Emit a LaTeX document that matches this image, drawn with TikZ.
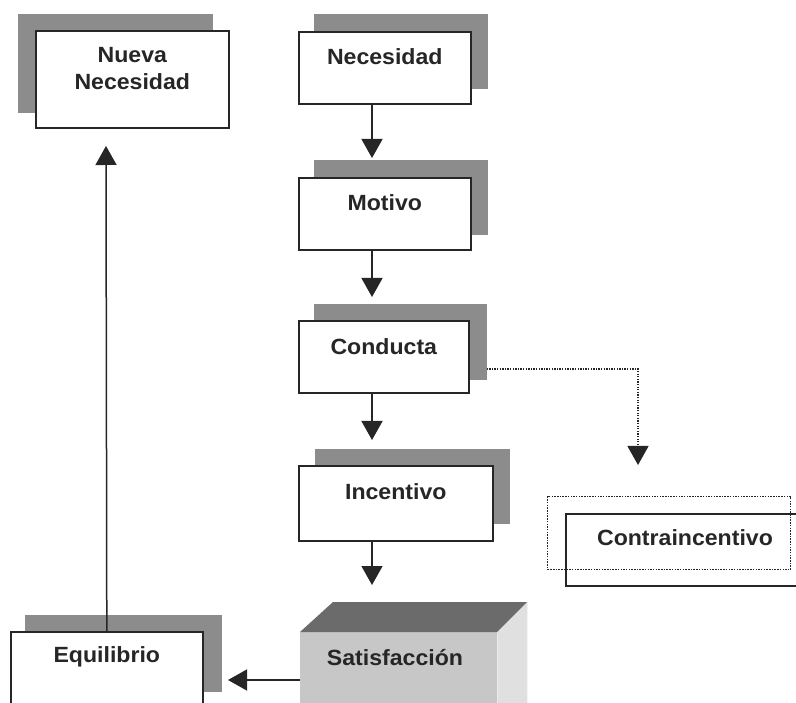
\documentclass[tikz,border=0pt]{standalone}
\usepackage{fontspec}
\setmainfont{Liberation Sans}[FakeStretch=1.05]
\usetikzlibrary{arrows.meta,calc,backgrounds}
\begin{document}
\begin{tikzpicture}[x=1pt,y=-1pt,
  box/.style={draw=black!85, line width=1.6pt, fill=white, rectangle, anchor=north west, inner sep=0pt},
  shd/.style={fill=black!45},
  lbl/.style={font=\fontsize{22}{27}\selectfont\bfseries, text=black!85, align=center, inner sep=0pt},
  arr/.style={line width=1.5pt, draw=black!85, -{Triangle[width=21pt,length=19pt]}},
  dotarr/.style={line width=1.3pt, dash pattern=on 1.3pt off 1.3pt, draw=black!85, -{Triangle[width=21pt,length=19pt]}}]
\clip (0,0) rectangle (796,703);

% boxes
\node[box, minimum width=193pt, minimum height=97pt] (nn) at (35,30) {};
\node[box, minimum width=172pt, minimum height=72pt] (nec) at (298,31) {};
\node[box, minimum width=172pt, minimum height=72pt] (mot) at (298,177) {};
\node[box, minimum width=170pt, minimum height=72pt] (con) at (298,320) {};
\node[box, minimum width=194pt, minimum height=75pt] (inc) at (298,465) {};
\node[box, minimum width=192pt, minimum height=85pt] (equ) at (10,631) {};
\node[box, fill=none, minimum width=250pt, minimum height=72pt] (cin) at (565,513) {};
\node[box, fill=none, line width=1.2pt, dash pattern=on 1.5pt off 1.2pt, minimum width=243pt, minimum height=73pt] (cind) at (547,496) {};

% 3D Satisfaccion block
\node[anchor=north west, fill=black!22, inner sep=0pt, minimum width=197pt, minimum height=80pt] (sat) at (300,632) {};
\fill[black!58] (sat.north west) -- (sat.north east) -- ++(30,-30) -- ($(sat.north west)+(33,-30)$) -- cycle;
\fill[black!12] (sat.north east) -- ++(30,-30) -- ++(0,110) -- (sat.south east) -- cycle;

% shadows
\begin{scope}[on background layer]
  \fill[shd] ($(nn.north west)+(-17,-16)$) rectangle ($(nn.south east)+(-17,-16)$);
  \fill[shd] ($(nec.north west)+(16,-17)$) rectangle ($(nec.south east)+(16,-16)$);
  \fill[shd] ($(mot.north west)+(16,-17)$) rectangle ($(mot.south east)+(16,-16)$);
  \fill[shd] ($(con.north west)+(16,-16)$) rectangle ($(con.south east)+(17,-14)$);
  \fill[shd] ($(inc.north west)+(17,-16)$) rectangle ($(inc.south east)+(16,-18)$);
  \fill[shd] ($(equ.north west)+(15,-16)$) rectangle ($(equ.south east)+(18,-26)$);
\end{scope}

% labels
\node[lbl] at ($(nn.north)+(0,39)$) {Nueva\\Necesidad};
\node[lbl] at ($(nec.north)+(0,26)$) {Necesidad};
\node[lbl] at ($(mot.north)+(0,26)$) {Motivo};
\node[lbl] at ($(con.north)+(0,27)$) {Conducta};
\node[lbl] at ($(inc.north)+(0,27)$) {Incentivo};
\node[lbl] at ($(equ.north)+(0,26)$) {Equilibrio};
\node[lbl] at (395,658) {Satisfacción};
\node[lbl] at (685,538) {Contraincentivo};

% connectors
\coordinate (ax) at (372,0);
\draw[arr] (nec.south -| ax) -- ($(mot.north -| ax)+(0,-19)$);
\draw[arr] (mot.south -| ax) -- ($(con.north -| ax)+(0,-23)$);
\draw[arr] (con.south -| ax) -- ($(inc.north -| ax)+(0,-25)$);
\draw[arr] (inc.south -| ax) -- ($(sat.north -| ax)+(0,-47)$);
\coordinate (cntip) at (638,465);
\draw[dotarr] ($(con.north east)+(17,49)$) -| (cntip);
\coordinate (eqtip) at (228,680);
\draw[arr] (sat.west |- eqtip) -- (eqtip);
\coordinate (nntip) at (106,146);
\draw[arr] (equ.north) -- (nntip);
\end{tikzpicture}
\end{document}
